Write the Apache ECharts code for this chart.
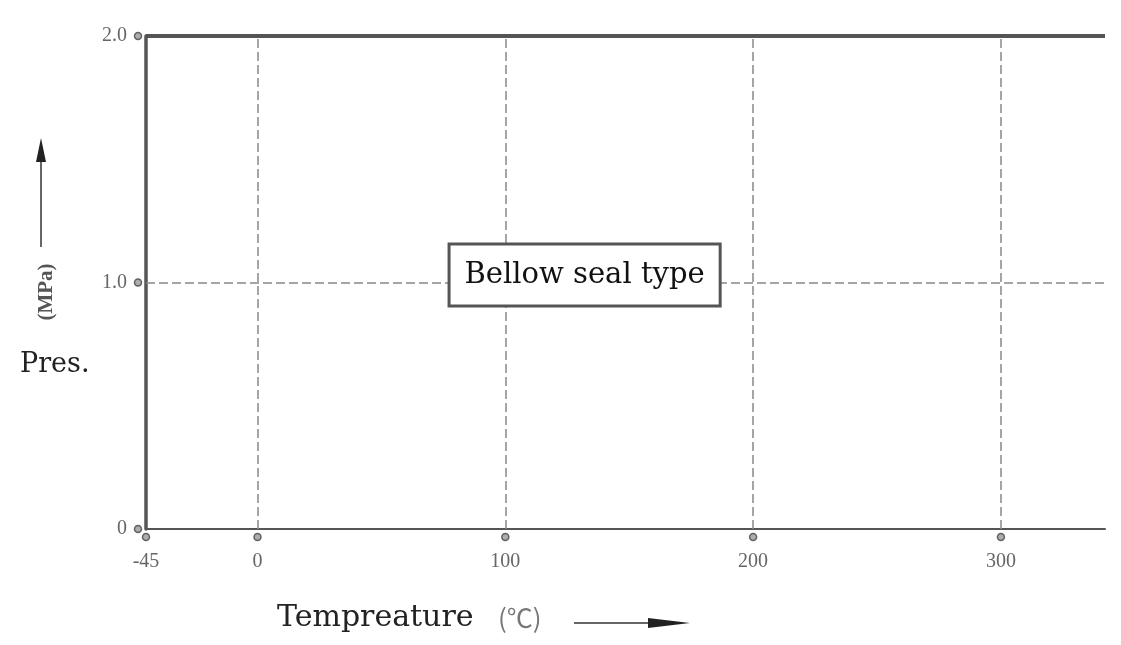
<!DOCTYPE html>
<html><head><meta charset="utf-8">
<script src="https://cdn.jsdelivr.net/npm/echarts@6/dist/echarts.min.js"></script>
<style>html,body{margin:0;padding:0;background:#fff}#c{width:1121px;height:645px}</style>
</head><body><div id="c"></div>
<script>
// ---- data ----
const tempTicks = [-45, 0, 100, 200, 300];
const tempTickLabels = ['-45', '0', '100', '200', '300'];
const presTicks = [0, 1, 2];
const presTickLabels = ['0', '1.0', '2.0'];
const tempMin = -45;
const tempMax = 342;
const limitTemps = [-45, 342];
const limitPressures = [2.0, 2.0];
const gridTemps = [0, 100, 200, 300];
const gridPressures = [1.0];
const noteText = 'Bellow seal type';
const noteTemp = 132;
const notePressure = 1.03;
const xTitle = 'Tempreature';
const xUnit = '(℃)';
const yTitle = 'Pres.';
const yUnit = '(MPa)';

const chart = echarts.init(document.getElementById('c'));
const tickFont = { fontFamily: 'Liberation Serif', fontSize: 20, color: '#666' };
const dotStyle = { color: '#999', borderColor: '#444', borderWidth: 1.5 };

chart.setOption({
  animation: false,
  backgroundColor: '#fff',
  grid: { left: 146, right: 16, top: 36, bottom: 116 },
  xAxis: {
    type: 'value', min: tempMin, max: tempMax,
    axisLine: { show: true, onZero: false, lineStyle: { color: '#555', width: 2 } },
    axisTick: { show: false },
    splitLine: { show: false },
    axisLabel: Object.assign({
      customValues: tempTicks,
      margin: 23,
      formatter: v => tempTickLabels[tempTicks.indexOf(v)]
    }, tickFont)
  },
  yAxis: {
    type: 'value', min: 0, max: 2, interval: 1,
    axisLine: { show: true, onZero: false, lineStyle: { color: '#555', width: 3.5 } },
    axisTick: { show: false },
    splitLine: { show: false },
    axisLabel: Object.assign({
      margin: 19,
      formatter: v => presTickLabels[presTicks.indexOf(v)]
    }, tickFont)
  },
  series: [
    {
      type: 'line',
      data: limitTemps.map((t, i) => [t, limitPressures[i]]),
      symbol: 'none',
      lineStyle: { color: '#555', width: 4 },
      z: 3,
      markLine: {
        silent: true, symbol: 'none', label: { show: false },
        lineStyle: { color: '#888', width: 1.5, type: [9, 4] },
        data: gridTemps.map(t => ({ xAxis: t })).concat(gridPressures.map(p => ({ yAxis: p })))
      }
    },
    {
      type: 'scatter', clip: false, symbol: 'circle', symbolSize: 7,
      symbolOffset: [0, 8], itemStyle: dotStyle,
      data: tempTicks.map(t => [t, 0])
    },
    {
      type: 'scatter', clip: false, symbol: 'circle', symbolSize: 7,
      symbolOffset: [-8, 0], itemStyle: dotStyle,
      data: presTicks.map(p => [tempMin, p])
    },
    {
      type: 'scatter', symbolSize: 1, itemStyle: { color: '#fff', opacity: 1 }, z: 10,
      data: [[noteTemp, notePressure]],
      label: {
        show: true, position: 'inside', formatter: noteText,
        fontFamily: 'DejaVu Serif', fontSize: 29, color: '#111',
        textBorderWidth: 0, textShadowBlur: 0,
        backgroundColor: '#fff', borderColor: '#555', borderWidth: 3,
        padding: [15, 14, 15, 14]
      }
    }
  ],
  graphic: [
    { type: 'text', left: 277, top: 603, style: { text: xTitle, font: '30px "DejaVu Serif"', fill: '#222' } },
    { type: 'text', left: 498, top: 605, style: { text: xUnit, font: '26px "Noto Sans CJK SC"', fill: '#777' } },
    { type: 'line', shape: { x1: 574, y1: 623, x2: 660, y2: 623 }, style: { stroke: '#666', lineWidth: 2 } },
    { type: 'polygon', shape: { points: [[648, 618], [690, 623], [648, 628]] }, style: { fill: '#222' } },
    { type: 'text', left: 20, top: 351, style: { text: yTitle, font: '27px "DejaVu Serif"', fill: '#222' } },
    { type: 'text', x: 47, y: 292, rotation: Math.PI / 2,
      style: { text: yUnit, font: 'bold 21px "Liberation Serif"', fill: '#555', align: 'center', verticalAlign: 'middle' } },
    { type: 'line', shape: { x1: 41, y1: 160, x2: 41, y2: 247 }, style: { stroke: '#666', lineWidth: 2 } },
    { type: 'polygon', shape: { points: [[36, 162], [41, 138], [46, 162]] }, style: { fill: '#222' } }
  ]
});
</script></body></html>
